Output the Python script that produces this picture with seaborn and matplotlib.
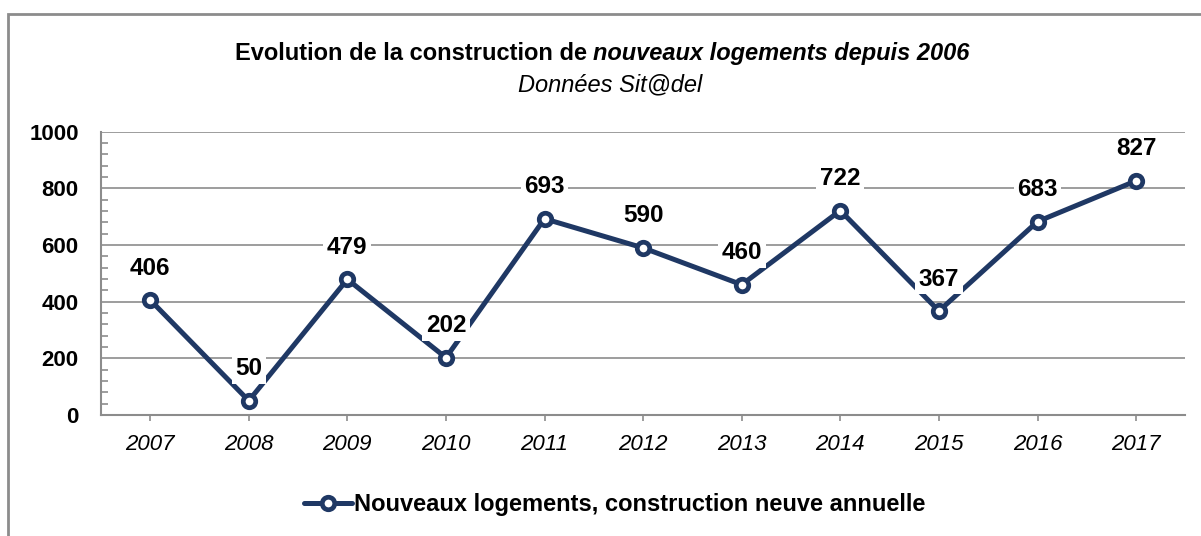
import pandas as pd
import numpy as np
import matplotlib.pyplot as plt
import seaborn as sns
from matplotlib.ticker import MultipleLocator
from matplotlib.patches import Rectangle

sns.set_style("white")
plt.rcParams["font.family"] = ["Liberation Sans", "DejaVu Sans"]
plt.rcParams["text.color"] = "black"
plt.rcParams["xtick.color"] = "black"
plt.rcParams["ytick.color"] = "black"

# Data
years = ["2007", "2008", "2009", "2010", "2011", "2012", "2013", "2014", "2015", "2016", "2017"]
logements = [406, 50, 479, 202, 693, 590, 460, 722, 367, 683, 827]
serie = "Nouveaux logements, construction neuve annuelle"

df = pd.DataFrame({"annee": years, "valeur": logements})

navy = "#1F3864"
grey = "#8C8C8C"

fig = plt.figure(figsize=(12.01, 5.36), dpi=100)
ax = fig.add_axes([0.084, 0.226, 0.903, 0.528])

sns.lineplot(data=df, x="annee", y="valeur", ax=ax, color=navy, lw=3.6,
             marker="o", markersize=9, markerfacecolor="white",
             markeredgecolor=navy, markeredgewidth=3.4, label=serie, zorder=3)

# Data labels
for i, v in enumerate(logements):
    ax.annotate(str(v), (i, v), xytext=(0, 23), textcoords="offset points",
                ha="center", va="center", fontsize=17.5, fontweight="bold",
                bbox=dict(boxstyle="square,pad=0.15", fc="white", ec="none"),
                zorder=4)

ax.set_xlim(-0.5, len(years) - 0.5)
ax.set_ylim(0, 1000)
ax.yaxis.set_major_locator(MultipleLocator(200))
ax.yaxis.set_minor_locator(MultipleLocator(40))
ax.grid(axis="y", which="major", color=grey, lw=1.2)
ax.set_axisbelow(True)

for s in ["top", "right"]:
    ax.spines[s].set_visible(False)
for s in ["left", "bottom"]:
    ax.spines[s].set_color(grey)
    ax.spines[s].set_linewidth(1.5)

ax.tick_params(axis="y", which="major", length=0, pad=16, labelsize=16)
ax.tick_params(axis="y", which="minor", length=5, direction="in", color=grey, width=1.2, left=True)
ax.tick_params(axis="x", length=4, direction="out", color=grey, width=1.2, pad=10, labelsize=16, bottom=True)
for lab in ax.get_yticklabels():
    lab.set_fontweight("bold")
for lab in ax.get_xticklabels():
    lab.set_fontstyle("italic")
ax.set_xlabel("")
ax.set_ylabel("")

fig.text(0.494, 0.90, "Evolution de la construction de ", ha="right", va="center",
         fontsize=17, fontweight="bold")
fig.text(0.494, 0.90, "nouveaux logements depuis 2006", ha="left", va="center",
         fontsize=17, fontweight="bold", fontstyle="italic")
fig.text(0.508, 0.842, "Données Sit@del", ha="center", va="center",
         fontsize=17, fontstyle="italic")

ax.legend(loc="center", bbox_to_anchor=(0.512, 0.058), bbox_transform=fig.transFigure,
          frameon=False, prop={"size": 17, "weight": "bold"}, handlelength=2.0,
          handletextpad=0.1)

# Outer frame
fig.patches.append(Rectangle((8 / 1201, -0.1), 1.2, 1 - 14 / 536 + 0.1,
                             transform=fig.transFigure, fill=False, ec=grey, lw=2))

fig.savefig("out.png", dpi=100)
